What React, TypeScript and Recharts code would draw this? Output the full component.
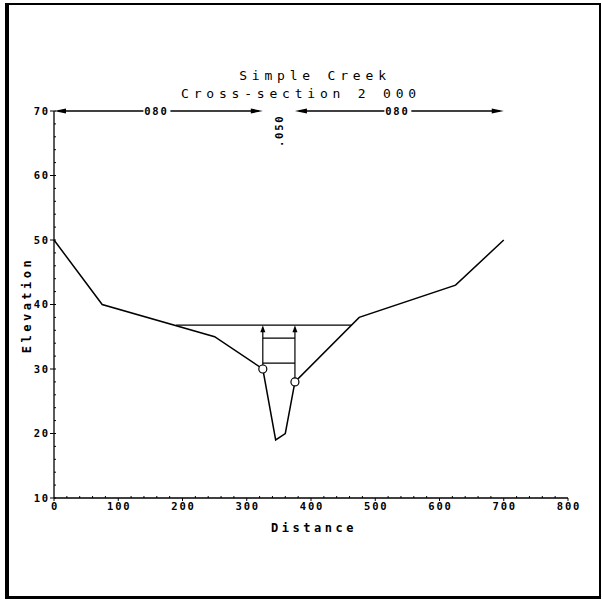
import {
  ComposedChart,
  Line,
  XAxis,
  YAxis,
  ReferenceLine,
  ReferenceDot,
} from "recharts";

// ground profile
const stations = [0, 75, 250, 325, 345, 360, 375, 475, 625, 700];
const elevations = [50, 40, 35, 30, 19, 20, 28, 38, 43, 50];

// water surface
const waterStart = 190;
const waterEnd = 463;
const waterElev = 36.8;

// bank stations (circles + arrows up to the water surface)
const bankStations = [325, 375];
const bankElevations = [30, 28];
const boxElevations = [34.8, 30.9];

// n-values along the top
const reachStarts = [0, 375];
const reachEnds = [325, 700];
const reachLabels = ["080", "080"];
const channelStation = 350;
const channelLabel = ".050";
const topElev = 70;

const xLabels = [0, 100, 200, 300, 400, 500, 600, 700, 800];
const yLabels = [10, 20, 30, 40, 50, 60, 70];
const xTicks = Array.from({ length: 41 }, (_, i) => i * 20);
const yTicks = Array.from({ length: 31 }, (_, i) => 10 + i * 2);

const profile = stations.map((x, i) => ({ x, y: elevations[i] }));

const FONT = "'DejaVu Sans Mono', 'Liberation Mono', monospace";

const XTick = (props: any) => {
  const { x, y, payload } = props;
  const major = xLabels.includes(payload.value);
  return (
    <g>
      <line x1={x} x2={x} y1={y} y2={major ? y + 3 : y - 2} stroke="#000" />
      {major && (
        <text
          x={x}
          y={y + 12}
          dx={1}
          textAnchor="middle"
          fontSize={10.5}
          fontWeight="bold"
          letterSpacing={1.8}
          fontFamily={FONT}
          fill="#000"
        >
          {payload.value}
        </text>
      )}
    </g>
  );
};

const YTick = (props: any) => {
  const { x, y, payload } = props;
  const major = yLabels.includes(payload.value);
  return (
    <g>
      <line x1={major ? x - 4 : x} x2={x + 2} y1={y} y2={y} stroke="#000" />
      {major && (
        <text
          x={x - 4}
          y={y + 3.5}
          textAnchor="end"
          fontSize={10.5}
          fontWeight="bold"
          letterSpacing={1.8}
          fontFamily={FONT}
          fill="#000"
        >
          {payload.value}
        </text>
      )}
    </g>
  );
};

const doubleArrow = (label: string) => (p: any) => {
  const { x1, y1, x2 } = p;
  const mid = (x1 + x2) / 2;
  return (
    <g>
      <line x1={x1 + 4} y1={y1} x2={mid - 15} y2={y1} stroke="#000" strokeWidth={1.3} />
      <line x1={mid + 12} y1={y1} x2={x2 - 4} y2={y1} stroke="#000" strokeWidth={1.3} />
      <polygon
        points={`${x1},${y1} ${x1 + 12},${y1 - 2.5} ${x1 + 12},${y1 + 2.5}`}
        fill="#000"
      />
      <polygon
        points={`${x2},${y1} ${x2 - 12},${y1 - 2.5} ${x2 - 12},${y1 + 2.5}`}
        fill="#000"
      />
      <text
        x={mid - 2}
        y={y1 + 3.5}
        textAnchor="middle"
        fontSize={10.5}
        fontWeight="bold"
        letterSpacing={1.8}
        fontFamily={FONT}
        fill="#000"
      >
        {label}
      </text>
    </g>
  );
};

const upArrow = (p: any) => {
  const { x1, y1, x2, y2 } = p;
  return (
    <g>
      <line x1={x1} y1={y1} x2={x2} y2={y2 + 5} stroke="#000" strokeWidth={1.2} />
      <polygon
        points={`${x2},${y2} ${x2 - 2.5},${y2 + 7} ${x2 + 2.5},${y2 + 7}`}
        fill="#000"
      />
    </g>
  );
};

const channelText = (p: any) => (
  <text
    transform={`translate(${p.cx + 4},${p.cy + 36}) rotate(-90)`}
    fontSize={10.5}
    fontWeight="bold"
    letterSpacing={1.8}
    fontFamily={FONT}
    fill="#000"
  >
    {channelLabel}
  </text>
);

const titleStyle: React.CSSProperties = {
  position: "absolute",
  left: 0,
  width: 602,
  textAlign: "center",
  fontFamily: FONT,
  fontSize: 13,
  letterSpacing: 4.8,
  color: "#000",
  lineHeight: "14px",
};

export default function App() {
  return (
    <div
      style={{
        position: "absolute",
        left: 0,
        top: 0,
        width: 602,
        height: 600,
        background: "#fff",
      }}
    >
      <div
        style={{
          position: "absolute",
          left: 5,
          top: 3,
          width: 590,
          height: 591,
          borderLeft: "4px solid #000",
          borderTop: "2px solid #000",
          borderRight: "2px solid #000",
          borderBottom: "3px solid #000",
        }}
      />
      <div style={{ ...titleStyle, top: 69, paddingLeft: 14 }}>Simple Creek</div>
      <div style={{ ...titleStyle, top: 87, paddingLeft: 0 }}>
        Cross-section 2 000
      </div>
      <div style={{ position: "absolute", left: 0, top: 0 }}>
        <ComposedChart
          width={602}
          height={600}
          data={profile}
          margin={{ top: 111, right: 34, bottom: 52, left: 14 }}
        >
          <XAxis
            dataKey="x"
            type="number"
            domain={[0, 800]}
            ticks={xTicks}
            interval={0}
            tickSize={0}
            tickMargin={0}
            tickLine={false}
            tick={<XTick />}
            axisLine={{ stroke: "#000", strokeWidth: 1.3 }}
            height={50}
            label={{
              value: "Distance",
              position: "insideBottom",
              offset: 16,
              dx: 3,
              fontSize: 12,
              fontWeight: "bold",
              letterSpacing: 3.5,
              fontFamily: FONT,
              fill: "#000",
            }}
          />
          <YAxis
            type="number"
            domain={[10, 70]}
            ticks={yTicks}
            interval={0}
            tickSize={0}
            tickMargin={0}
            tickLine={false}
            tick={<YTick />}
            axisLine={{ stroke: "#000", strokeWidth: 1.3 }}
            width={40}
            label={{
              content: () => (
                <text
                  transform="translate(31,305) rotate(-90)"
                  textAnchor="middle"
                  fontSize={12}
                  fontWeight="bold"
                  letterSpacing={3.5}
                  fontFamily={FONT}
                  fill="#000"
                >
                  Elevation
                </text>
              ),
            }}
          />
          <Line
            dataKey="y"
            type="linear"
            stroke="#000"
            strokeWidth={1.5}
            dot={false}
            activeDot={false}
            isAnimationActive={false}
          />
          <ReferenceLine
            segment={[
              { x: waterStart, y: waterElev },
              { x: waterEnd, y: waterElev },
            ]}
            stroke="#000"
            strokeWidth={1.3}
          />
          {boxElevations.map((e) => (
            <ReferenceLine
              key={e}
              segment={[
                { x: bankStations[0], y: e },
                { x: bankStations[1], y: e },
              ]}
              stroke="#000"
              strokeWidth={1.2}
            />
          ))}
          {bankStations.map((s, i) => (
            <ReferenceLine
              key={s}
              segment={[
                { x: s, y: bankElevations[i] },
                { x: s, y: waterElev },
              ]}
              shape={upArrow}
            />
          ))}
          {bankStations.map((s, i) => (
            <ReferenceDot
              key={"d" + s}
              x={s}
              y={bankElevations[i]}
              r={4}
              fill="#fff"
              stroke="#000"
              strokeWidth={1.2}
            />
          ))}
          {reachStarts.map((s, i) => (
            <ReferenceLine
              key={"r" + s}
              segment={[
                { x: s, y: topElev },
                { x: reachEnds[i], y: topElev },
              ]}
              shape={doubleArrow(reachLabels[i])}
            />
          ))}
          <ReferenceDot x={channelStation} y={topElev} r={0} shape={channelText} />
        </ComposedChart>
      </div>
    </div>
  );
}
